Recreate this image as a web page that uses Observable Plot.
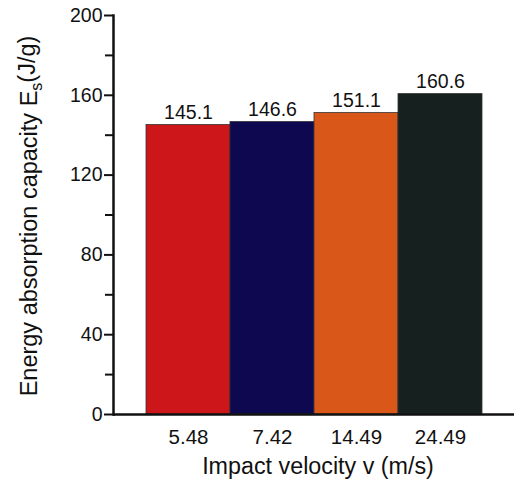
<!DOCTYPE html>
<html>
<head>
<meta charset="utf-8">
<script src="https://cdn.jsdelivr.net/npm/d3@7"></script>
<script src="https://cdn.jsdelivr.net/npm/@observablehq/plot@0.6"></script>
<style>
  html, body { margin: 0; padding: 0; background: white; }
</style>
</head>
<body>
<div id="chart"></div>
<script>
const categories = ["5.48", "7.42", "14.49", "24.49"];
const values = [145.1, 146.6, 151.1, 160.6];
const barColors = ["#cc161a", "#0d0850", "#d85719", "#15201f"];
const yTicks = [0, 40, 80, 120, 160, 200];
const yMinorTicks = [20, 60, 100, 140, 180];
const xTitle = "Impact velocity v (m/s)";
const yTitle = "Energy absorption capacity Es(J/g)";

const data = categories.map((c, i) => ({v: c, e: values[i]}));

const chart = Plot.plot({
  width: 514,
  height: 479,
  marginLeft: 113,
  marginRight: 0,
  marginTop: 15,
  marginBottom: 65,
  style: {fontFamily: "'Liberation Sans', Arial, sans-serif", fontSize: "19px", color: "#111", background: "white"},
  x: {domain: categories, paddingInner: 0, paddingOuter: 0.38, axis: null},
  y: {domain: [0, 200], axis: null},
  color: {domain: categories, range: barColors},
  marks: [
    Plot.barY(data, {x: "v", y: "e", fill: "v", stroke: "#333", strokeWidth: 0.8}),
    Plot.text(data, {x: "v", y: "e", text: d => d.e.toFixed(1), lineAnchor: "bottom", dy: -6, fontSize: 19.5, fill: "#111"}),
    Plot.axisY({ticks: yTicks, tickSize: 9, tickPadding: 2, label: null, fontSize: 19.5, strokeWidth: 2, tickFormat: d => String(d)}),
    Plot.axisY({ticks: yMinorTicks, tickSize: 8, tickFormat: () => "", label: null, strokeWidth: 2}),
    Plot.axisX({tickSize: 0, tickPadding: 15, label: null, fontSize: 20.5}),
    Plot.frame({anchor: "left", strokeWidth: 2.5, stroke: "#111"}),
    Plot.ruleY([0], {strokeWidth: 2.5, stroke: "#111"}),
    Plot.text([xTitle], {frameAnchor: "bottom", text: d => d, lineAnchor: "middle", textAnchor: "middle", dy: 52, dx: 4, fontSize: 23.3, fill: "#111"}),
    Plot.text([yTitle], {frameAnchor: "left", text: d => d, rotate: -90, textAnchor: "middle", lineAnchor: "middle", dx: -84, dy: 1, fontSize: 23.5, fill: "#111"})
  ]
});

document.getElementById("chart").appendChild(chart);

// Render the subscript "s" in E_s
d3.select(chart).selectAll("text").filter(function () { return this.textContent === yTitle; }).each(function () {
  const t = d3.select(this);
  t.text(null);
  t.append("tspan").text("Energy absorption capacity E");
  t.append("tspan").attr("dy", "0.3em").attr("font-size", "16").text("s");
  t.append("tspan").attr("dy", "-0.3em").text("(J/g)");
});
</script>
</body>
</html>
